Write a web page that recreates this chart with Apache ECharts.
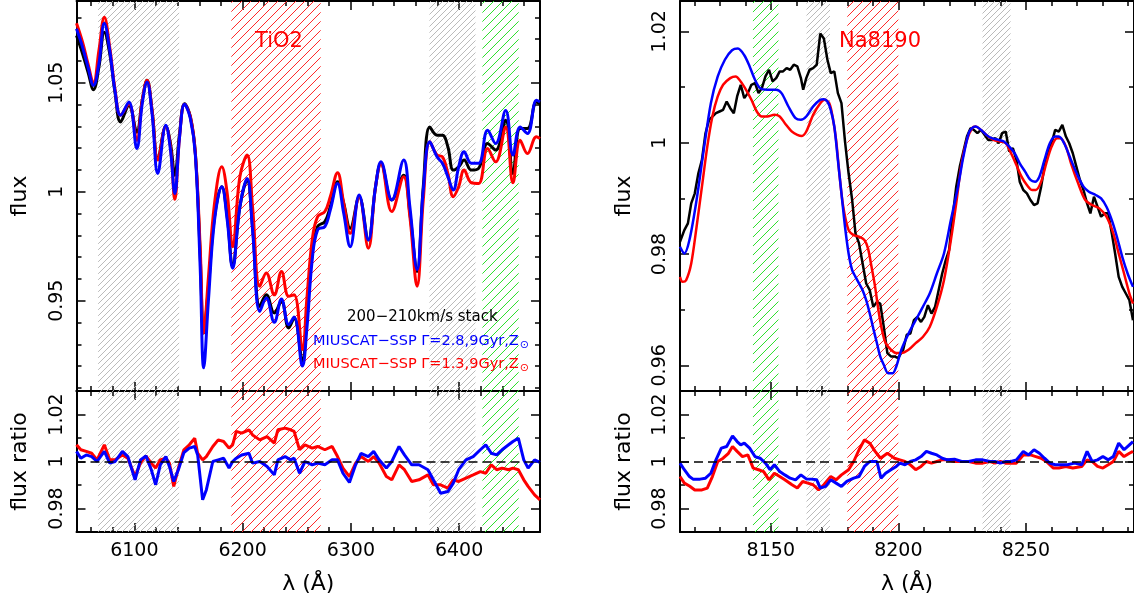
<!DOCTYPE html>
<html><head><meta charset="utf-8">
<script src="https://cdn.jsdelivr.net/npm/echarts@6/dist/echarts.min.js"></script>
<style>html,body{margin:0;padding:0;background:#fff}#c{width:1134px;height:604px}</style>
</head><body><div id="c"></div>
<script>
// ---------- data ----------
const leftWave = [6046.6,6052.2,6057.2,6062.3,6067.3,6072.3,6077.3,6082.3,6087.3,6095.0,6102.3,6107.3,6111.7,6116.4,6121.7,6129.1,6133.4,6137.4,6141.8,6146.4,6151.8,6156.4,6160.8,6164.1,6168.5,6174.1,6180.8,6185.8,6190.8,6197.5,6204.2,6209.2,6215.9,6221.9,6229.3,6235.9,6242.6,6247.6,6255.3,6259.3,6264.3,6269.3,6276.0,6281.0,6287.7,6293.4,6299.4,6307.7,6316.1,6322.8,6327.8,6337.8,6348.8,6354.5,6361.2,6366.9,6372.9,6379.6,6384.6,6389.6,6394.6,6399.6,6404.6,6411.3,6418.0,6426.3,6433.7,6443.0,6449.7,6456.4,6463.1,6471.4,6474.7];
const leftStack = [1.0716,1.0633,1.0549,1.0468,1.0572,1.0732,1.0633,1.0450,1.0320,1.0396,1.0274,1.0419,1.0511,1.0373,1.0148,1.0300,1.0221,1.0076,1.0267,1.0404,1.0343,1.0175,0.9718,0.9352,0.9566,0.9886,1.0023,0.9886,0.9657,0.9931,1.0053,0.9840,0.9474,0.9527,0.9444,0.9497,0.9375,0.9421,0.9223,0.9428,0.9718,0.9840,0.9863,0.9931,1.0046,0.9947,0.9832,0.9977,0.9779,1.0023,1.0130,0.9962,1.0076,0.9901,0.9634,1.0023,1.0297,1.0259,1.0259,1.0206,1.0099,1.0114,1.0145,1.0099,1.0107,1.0221,1.0191,1.0328,1.0084,1.0290,1.0290,1.0412,1.0404];
const leftBlue = [1.0747,1.0663,1.0572,1.0488,1.0587,1.0773,1.0648,1.0457,1.0351,1.0412,1.0198,1.0404,1.0503,1.0358,1.0084,1.0305,1.0191,0.9992,1.0252,1.0401,1.0335,1.0168,0.9657,0.9192,0.9505,0.9870,1.0023,0.9870,0.9649,0.9931,1.0061,0.9825,0.9451,0.9512,0.9401,0.9508,0.9390,0.9425,0.9200,0.9367,0.9688,0.9825,0.9840,0.9916,1.0038,0.9901,0.9748,0.9985,0.9779,1.0023,1.0137,0.9962,1.0145,0.9931,0.9642,1.0008,1.0229,1.0160,1.0130,1.0069,1.0008,1.0114,1.0183,1.0130,1.0130,1.0282,1.0221,1.0373,1.0168,1.0297,1.0267,1.0419,1.0412];
const leftRed = [1.0773,1.0686,1.0587,1.0498,1.0648,1.0800,1.0663,1.0465,1.0351,1.0404,1.0236,1.0419,1.0511,1.0373,1.0145,1.0300,1.0206,0.9965,1.0252,1.0401,1.0343,1.0175,0.9748,0.9352,0.9611,0.9947,1.0114,0.9992,0.9748,1.0069,1.0168,0.9931,0.9566,0.9627,0.9527,0.9634,0.9520,0.9527,0.9276,0.9505,0.9779,0.9886,0.9909,0.9977,1.0087,0.9947,0.9809,0.9977,0.9741,1.0023,1.0127,0.9909,1.0069,0.9886,0.9566,0.9962,1.0229,1.0168,1.0160,1.0084,0.9977,1.0023,1.0099,1.0041,1.0038,1.0198,1.0137,1.0297,1.0041,1.0236,1.0175,1.0252,1.0244];

const leftRatioWave = [6046.6,6050.6,6055.6,6060.6,6065.6,6072.3,6077.3,6082.3,6089.0,6094.0,6100.7,6105.7,6110.7,6115.7,6119.7,6124.0,6129.1,6132.4,6136.4,6140.7,6145.8,6150.8,6155.8,6158.5,6163.1,6166.5,6172.5,6177.5,6182.5,6187.5,6190.8,6194.2,6199.2,6205.9,6209.2,6215.9,6222.6,6229.3,6232.6,6239.3,6244.3,6247.6,6252.6,6257.6,6264.3,6269.3,6276.0,6282.7,6287.7,6292.7,6298.7,6304.4,6309.4,6316.1,6321.1,6326.1,6332.8,6337.8,6344.5,6349.5,6356.2,6362.9,6371.2,6376.2,6382.9,6389.6,6394.6,6399.6,6406.3,6413.0,6419.6,6424.6,6429.7,6434.7,6439.7,6445.7,6449.7,6454.7,6459.7,6463.7,6469.7,6474.7];
const leftRatioRed = [1.0071,1.0050,1.0043,1.0035,1.0007,1.0071,1.0007,1.0007,1.0028,1.0014,0.9936,0.9993,1.0024,0.9993,0.9972,1.0007,1.0014,0.9993,0.9894,0.9972,1.0050,1.0071,1.0099,1.0035,1.0007,1.0021,1.0064,1.0092,1.0085,1.0057,1.0071,1.0128,1.0121,1.0135,1.0113,1.0092,1.0106,1.0078,1.0135,1.0142,1.0135,1.0128,1.0050,1.0071,1.0057,1.0064,1.0050,1.0064,1.0021,0.9972,0.9936,0.9993,1.0021,1.0000,1.0021,0.9993,0.9936,0.9922,0.9986,0.9965,0.9915,0.9922,0.9943,0.9901,0.9901,0.9887,0.9922,0.9915,0.9929,0.9943,0.9957,0.9950,0.9986,0.9965,0.9972,0.9965,0.9972,0.9965,0.9922,0.9894,0.9858,0.9837];
const leftRatioBlue = [1.0043,1.0014,1.0028,1.0021,1.0000,1.0043,0.9993,1.0000,1.0043,1.0021,0.9922,1.0007,1.0024,0.9965,0.9901,0.9986,1.0021,0.9979,0.9915,0.9965,1.0038,1.0057,1.0064,1.0028,0.9837,0.9879,1.0000,1.0007,1.0014,0.9972,1.0000,1.0014,1.0028,1.0035,0.9993,1.0000,0.9979,0.9943,1.0007,1.0021,1.0007,1.0014,0.9950,1.0000,0.9986,0.9993,0.9986,1.0007,1.0007,0.9950,0.9911,0.9986,1.0035,1.0021,1.0043,1.0007,0.9972,1.0000,1.0064,1.0028,0.9986,0.9986,0.9965,0.9922,0.9865,0.9872,0.9908,0.9965,1.0007,1.0021,1.0050,1.0071,1.0035,1.0028,1.0050,1.0071,1.0085,1.0099,1.0007,0.9972,1.0007,0.9996];

const rightStackWave = [8114.4,8116.1,8117.5,8118.8,8120.2,8121.6,8123.0,8124.4,8125.8,8127.1,8128.5,8129.9,8131.3,8132.7,8134.1,8135.5,8136.8,8138.2,8139.6,8141.0,8142.4,8143.8,8145.2,8146.5,8147.9,8149.3,8150.7,8152.1,8153.5,8154.8,8156.2,8157.6,8159.0,8160.4,8161.8,8162.7,8163.9,8165.2,8166.6,8168.0,8169.4,8170.8,8172.2,8173.5,8174.9,8176.3,8177.7,8179.1,8180.5,8181.9,8183.2,8184.6,8186.0,8187.4,8188.8,8190.2,8191.6,8192.9,8194.3,8195.7,8197.1,8198.5,8199.9,8201.9,8203.3,8204.7,8206.1,8207.5,8208.9,8210.2,8211.6,8213.0,8214.4,8215.8,8217.2,8218.6,8219.9,8221.3,8222.7,8224.1,8225.5,8226.9,8228.3,8229.6,8231.0,8232.4,8233.8,8235.2,8236.6,8238.0,8239.3,8240.7,8242.1,8243.5,8244.9,8246.3,8247.6,8249.0,8250.4,8251.8,8253.2,8254.6,8256.0,8257.3,8258.7,8260.1,8261.5,8262.9,8264.3,8265.7,8267.0,8268.4,8269.8,8271.2,8272.6,8274.0,8275.3,8276.7,8278.1,8279.5,8280.9,8282.3,8283.7,8285.0,8286.4,8287.8,8289.2,8290.6,8292.0];
const rightStack = [0.9822,0.9843,0.9855,0.9891,0.9909,0.9945,0.9969,1.0017,1.0041,1.0047,1.0053,1.0056,1.0059,1.0074,1.0062,1.0053,1.0083,1.0104,1.0080,1.0089,1.0104,1.0107,1.0089,1.0098,1.0119,1.0131,1.0110,1.0116,1.0128,1.0128,1.0134,1.0131,1.0140,1.0137,1.0116,1.0095,1.0116,1.0131,1.0134,1.0140,1.0196,1.0187,1.0149,1.0125,1.0128,1.0089,1.0071,1.0002,0.9945,0.9897,0.9837,0.9819,0.9783,0.9747,0.9735,0.9705,0.9714,0.9711,0.9669,0.9622,0.9616,0.9616,0.9613,0.9628,0.9655,0.9657,0.9681,0.9687,0.9678,0.9687,0.9708,0.9693,0.9705,0.9735,0.9765,0.9789,0.9807,0.9867,0.9921,0.9957,0.9984,1.0011,1.0026,1.0023,1.0017,1.0023,1.0014,1.0005,1.0005,1.0008,0.9999,1.0017,1.0020,0.9984,0.9990,0.9969,0.9930,0.9915,0.9909,0.9897,0.9888,0.9891,0.9921,0.9957,0.9981,0.9999,1.0023,1.0020,1.0032,1.0011,0.9999,0.9981,0.9957,0.9933,0.9915,0.9891,0.9873,0.9903,0.9885,0.9867,0.9873,0.9873,0.9837,0.9801,0.9759,0.9741,0.9729,0.9717,0.9681];
const rightBlueWave = [8114.4,8116.1,8118.1,8120.9,8123.7,8126.5,8129.2,8132.0,8134.8,8137.1,8139.6,8141.7,8143.8,8145.8,8148.6,8152.1,8154.2,8156.9,8159.7,8161.8,8163.9,8166.6,8169.4,8170.8,8172.2,8173.5,8174.9,8176.3,8177.7,8179.1,8180.5,8181.9,8183.2,8184.6,8186.0,8187.4,8188.8,8190.2,8191.6,8192.9,8194.3,8196.0,8197.8,8199.2,8201.2,8204.0,8206.8,8209.6,8212.3,8215.1,8217.9,8220.6,8223.4,8225.5,8227.6,8228.9,8230.3,8232.4,8234.5,8236.6,8239.3,8241.4,8243.5,8245.6,8247.6,8249.7,8251.8,8253.6,8255.3,8257.3,8259.4,8261.5,8262.9,8265.0,8267.7,8270.5,8272.6,8274.7,8277.4,8279.5,8281.6,8283.7,8285.7,8287.8,8289.9,8292.0];
const rightBlue = [0.9813,0.9801,0.9825,0.9897,0.9987,1.0071,1.0119,1.0149,1.0166,1.0169,1.0157,1.0137,1.0113,1.0098,1.0095,1.0095,1.0089,1.0065,1.0044,1.0041,1.0047,1.0065,1.0077,1.0078,1.0074,1.0059,1.0029,0.9969,0.9909,0.9849,0.9801,0.9771,0.9759,0.9747,0.9735,0.9717,0.9693,0.9666,0.9640,0.9616,0.9601,0.9586,0.9586,0.9598,0.9628,0.9657,0.9681,0.9705,0.9729,0.9765,0.9801,0.9861,0.9921,0.9975,1.0017,1.0026,1.0029,1.0023,1.0014,1.0008,1.0005,1.0002,0.9993,0.9981,0.9963,0.9948,0.9933,0.9930,0.9939,0.9969,0.9999,1.0011,1.0011,0.9999,0.9969,0.9939,0.9921,0.9912,0.9906,0.9900,0.9885,0.9861,0.9831,0.9795,0.9765,0.9741];
const rightRedWave = [8114.4,8115.4,8116.8,8118.8,8120.9,8123.0,8125.1,8127.1,8129.2,8131.3,8134.1,8136.2,8138.2,8140.3,8142.4,8144.5,8146.5,8148.6,8151.4,8153.5,8155.5,8158.3,8160.4,8162.2,8163.9,8166.6,8169.4,8171.1,8172.9,8174.2,8175.6,8177.0,8178.4,8180.5,8182.5,8184.6,8186.7,8188.1,8189.5,8190.9,8192.2,8193.6,8195.0,8197.1,8199.2,8201.2,8204.0,8206.8,8209.6,8212.3,8215.1,8217.9,8220.6,8222.7,8224.8,8226.9,8228.9,8230.3,8232.4,8234.5,8237.3,8240.0,8242.1,8244.2,8246.3,8248.3,8250.4,8252.5,8253.9,8256.0,8258.0,8260.1,8262.2,8263.6,8265.7,8267.7,8270.5,8273.3,8276.0,8278.8,8281.6,8284.3,8286.4,8288.5,8290.6,8292.0];
const rightRed = [0.9759,0.9750,0.9753,0.9783,0.9849,0.9921,0.9993,1.0047,1.0083,1.0104,1.0116,1.0119,1.0110,1.0095,1.0077,1.0056,1.0047,1.0047,1.0050,1.0047,1.0035,1.0020,1.0014,1.0012,1.0020,1.0050,1.0071,1.0077,1.0071,1.0047,1.0005,0.9939,0.9885,0.9843,0.9834,0.9831,0.9825,0.9810,0.9777,0.9741,0.9699,0.9663,0.9640,0.9628,0.9622,0.9622,0.9628,0.9640,0.9651,0.9669,0.9705,0.9753,0.9825,0.9891,0.9963,1.0005,1.0026,1.0029,1.0023,1.0014,1.0005,1.0002,0.9999,0.9981,0.9960,0.9939,0.9924,0.9915,0.9915,0.9930,0.9963,0.9993,1.0008,1.0008,0.9993,0.9963,0.9927,0.9897,0.9888,0.9882,0.9867,0.9837,0.9801,0.9765,0.9729,0.9711];

const rightRatioBlueWave = [8114.4,8116.1,8118.1,8119.5,8122.3,8124.4,8126.5,8128.5,8130.6,8132.7,8135.0,8136.8,8138.2,8139.6,8141.7,8143.8,8145.8,8147.9,8149.7,8151.4,8153.5,8155.5,8157.6,8159.7,8161.8,8163.9,8165.9,8168.0,8169.4,8171.5,8173.5,8175.6,8177.7,8179.8,8182.5,8184.6,8186.7,8188.8,8191.6,8193.2,8195.0,8197.1,8199.2,8200.6,8202.6,8204.7,8206.8,8208.9,8211.0,8213.0,8215.1,8217.2,8219.3,8222.0,8224.8,8227.6,8230.3,8233.1,8235.9,8237.9,8240.0,8242.1,8244.2,8246.3,8249.0,8251.1,8253.2,8255.3,8257.3,8259.4,8261.5,8263.6,8266.3,8269.1,8271.9,8274.0,8276.0,8278.1,8280.2,8282.3,8284.3,8286.4,8288.5,8290.6,8292.0];
const rightRatioBlue = [0.9993,0.9965,0.9936,0.9925,0.9925,0.9929,0.9950,1.0007,1.0057,1.0064,1.0109,1.0085,1.0071,1.0078,1.0057,1.0021,1.0014,0.9993,0.9965,0.9986,0.9957,0.9943,0.9929,0.9922,0.9943,0.9926,0.9925,0.9922,0.9887,0.9894,0.9922,0.9908,0.9894,0.9915,0.9929,0.9936,0.9979,1.0000,1.0000,0.9929,0.9950,0.9965,0.9979,0.9993,0.9986,1.0000,1.0007,1.0021,1.0043,1.0035,1.0028,1.0014,1.0007,1.0010,1.0000,1.0000,1.0007,1.0007,1.0000,1.0000,0.9993,1.0000,1.0000,1.0007,1.0043,1.0028,1.0050,1.0035,1.0014,0.9993,0.9986,0.9986,0.9986,0.9993,0.9986,1.0043,1.0000,1.0007,1.0021,1.0007,1.0021,1.0078,1.0050,1.0071,1.0085];
const rightRatioRedWave = [8114.4,8116.1,8118.1,8120.2,8123.0,8125.1,8127.1,8129.2,8131.3,8133.4,8135.0,8136.8,8138.9,8141.0,8143.1,8145.2,8147.2,8149.3,8151.4,8153.5,8155.5,8158.3,8160.4,8162.5,8164.5,8166.6,8168.7,8170.8,8173.5,8175.6,8177.7,8180.5,8182.5,8184.6,8186.7,8188.8,8190.9,8193.0,8195.7,8198.5,8200.6,8202.6,8204.7,8206.8,8208.9,8211.0,8213.0,8215.1,8217.2,8219.3,8222.0,8224.8,8227.6,8230.3,8233.1,8235.9,8237.9,8240.0,8242.1,8244.2,8246.3,8249.0,8251.8,8253.9,8256.0,8258.0,8260.8,8262.9,8265.7,8268.4,8271.9,8274.0,8276.0,8278.1,8280.2,8282.3,8284.3,8286.4,8288.5,8290.6,8292.0];
const rightRatioRed = [0.9936,0.9908,0.9896,0.9879,0.9879,0.9887,0.9936,1.0000,1.0014,1.0035,1.0064,1.0043,1.0021,1.0028,0.9972,0.9965,0.9957,0.9922,0.9950,0.9936,0.9922,0.9901,0.9887,0.9915,0.9908,0.9901,0.9879,0.9901,0.9936,0.9922,0.9943,0.9965,1.0000,1.0050,1.0092,1.0078,1.0043,1.0014,1.0035,1.0014,1.0007,1.0000,0.9986,0.9965,0.9979,1.0000,0.9993,1.0000,1.0007,1.0007,1.0000,1.0000,1.0000,0.9993,0.9993,1.0000,0.9993,1.0000,0.9993,0.9993,0.9993,1.0028,1.0028,1.0021,1.0014,1.0000,0.9972,0.9972,0.9979,0.9972,0.9979,1.0007,1.0000,0.9979,0.9972,0.9986,1.0000,1.0043,1.0021,1.0035,1.0043];

// index bands: wavelength limits per kind
const leftGrayFrom = [6066.6, 6372.6], leftGrayTo = [6141.4, 6415.1];
const leftRedFrom = [6189.6], leftRedTo = [6272.1];
const leftGreenFrom = [6421.5], leftGreenTo = [6455.0];
const rightGrayFrom = [8164.0, 8233.0], rightGrayTo = [8173.2, 8244.0];
const rightRedFrom = [8180.0], rightRedTo = [8200.0];
const rightGreenFrom = [8143.0], rightGreenTo = [8153.0];

// ticks
const leftXMajor = [6100,6200,6300,6400];
const leftXMinor = [6060,6080,6120,6140,6160,6180,6220,6240,6260,6280,6320,6340,6360,6380,6420,6440,6460];
const rightXMajor = [8150,8200,8250];
const rightXMinor = [8120,8130,8140,8160,8170,8180,8190,8210,8220,8230,8240,8260,8270,8280,8290];
const leftFluxMajor = [0.95,1,1.05];
const leftFluxMinor = [0.91,0.92,0.93,0.94,0.96,0.97,0.98,0.99,1.01,1.02,1.03,1.04,1.06,1.07,1.08];
const rightFluxMajor = [0.96,0.98,1,1.02];
const rightFluxMinor = [0.97,0.99,1.01];
const ratioMajor = [0.98,1,1.02];
const ratioMinor = [0.99,1.01];
const ratioReference = 1;

const leftXRange = [6046.6, 6474.7];
const rightXRange = [8114.4, 8292.4];
const leftFluxRange = [0.90858, 1.08748];
const rightFluxRange = [0.95539, 1.02545];
const ratioRange = [0.97, 1.03];

// ---------- styling ----------
const FONT = '"DejaVu Sans", sans-serif';

const grids = [
  {left: 76.5, top: 1, width: 463.5, height: 390},
  {left: 76.5, top: 391, width: 463.5, height: 141},
  {left: 680, top: 1, width: 457, height: 390},
  {left: 680, top: 391, width: 457, height: 141}
];

const xAxes = [], yAxes = [];
const tickStyle = {color: '#000', width: 1.5};
const plainNum = v => String(Math.round(v * 1000) / 1000);
function addX(g, range, majors, minors, withLabels) {
  const idx = xAxes.length;
  ['bottom', 'top'].forEach(pos => {
    const lab = withLabels && pos === 'bottom';
    xAxes.push({type: 'value', gridIndex: g, position: pos, min: range[0], max: range[1],
      splitLine: {show: false},
      axisLine: {show: true, onZero: false, lineStyle: {color: '#000', width: 2}},
      axisTick: {show: true, inside: true, length: 9, customValues: majors, lineStyle: tickStyle},
      axisLabel: lab ? {show: true, customValues: majors, formatter: plainNum, margin: 10, color: '#000', fontSize: 19, fontFamily: FONT} : {show: false},
      name: lab ? 'λ (Å)' : '', nameLocation: 'middle', nameGap: 41,
      nameTextStyle: {color: '#000', fontSize: 22, fontFamily: FONT}
    });
    xAxes.push({type: 'value', gridIndex: g, position: pos, min: range[0], max: range[1],
      splitLine: {show: false},
      axisLine: {show: false, onZero: false},
      axisTick: {show: true, inside: true, length: 5, customValues: minors, lineStyle: tickStyle},
      axisLabel: {show: false}
    });
  });
  return idx;
}
function addY(g, range, majors, minors, name) {
  const idx = yAxes.length;
  ['left', 'right'].forEach(pos => {
    const lab = pos === 'left';
    yAxes.push({type: 'value', gridIndex: g, position: pos, min: range[0], max: range[1],
      splitLine: {show: false},
      axisLine: {show: true, onZero: false, lineStyle: {color: '#000', width: 2}},
      axisTick: {show: true, inside: true, length: 9, customValues: majors, lineStyle: tickStyle},
      axisLabel: lab ? {show: true, customValues: majors, formatter: plainNum, rotate: 90, margin: 10, color: '#000', fontSize: 19, fontFamily: FONT} : {show: false},
      name: lab ? name : '', nameLocation: 'middle', nameRotate: 90, nameGap: 45,
      nameTextStyle: {color: '#000', fontSize: 22, fontFamily: FONT}
    });
    yAxes.push({type: 'value', gridIndex: g, position: pos, min: range[0], max: range[1],
      splitLine: {show: false},
      axisLine: {show: false, onZero: false},
      axisTick: {show: true, inside: true, length: 5, customValues: minors, lineStyle: tickStyle},
      axisLabel: {show: false}
    });
  });
  return idx;
}

const ax = [
  [addX(0, leftXRange, leftXMajor, leftXMinor, false), addY(0, leftFluxRange, leftFluxMajor, leftFluxMinor, 'flux')],
  [addX(1, leftXRange, leftXMajor, leftXMinor, true), addY(1, ratioRange, ratioMajor, ratioMinor, 'flux ratio')],
  [addX(2, rightXRange, rightXMajor, rightXMinor, false), addY(2, rightFluxRange, rightFluxMajor, rightFluxMinor, 'flux')],
  [addX(3, rightXRange, rightXMajor, rightXMinor, true), addY(3, ratioRange, ratioMajor, ratioMinor, 'flux ratio')]
];

const zip = (xs, ys) => xs.map((x, i) => [x, ys[i]]);
const series = [];

// hatched index bands: a custom series per colour, drawn as one path of diagonal strokes
function bandSeries(g, froms, tos, yRange, color, step, width) {
  series.push({
    type: 'custom', xAxisIndex: ax[g][0], yAxisIndex: ax[g][1], z: 1, silent: true, clip: true,
    itemStyle: {color: color, borderColor: color},
    data: froms.map((f, i) => [f, tos[i]]),
    renderItem: (params, api) => {
      const p0 = api.coord([api.value(0), yRange[1]]);
      const p1 = api.coord([api.value(1), yRange[0]]);
      const x0 = p0[0], y0 = p0[1], x1 = p1[0], y1 = p1[1];
      let d = '';
      for (let c = Math.ceil((x0 + y0) / step) * step; c <= x1 + y1; c += step) {
        const xa = Math.max(x0, c - y1), xb = Math.min(x1, c - y0);
        if (xb > xa) d += 'M' + xa.toFixed(2) + ',' + (c - xa).toFixed(2) + 'L' + xb.toFixed(2) + ',' + (c - xb).toFixed(2);
      }
      return {type: 'path', shape: {pathData: d},
        style: {fill: 'none', stroke: color, lineWidth: width, opacity: 1}};
    }
  });
}
function bandsFor(g, yRange, side) {
  if (side === 'left') {
    bandSeries(g, leftGrayFrom, leftGrayTo, yRange, '#b2b2b2', 6, 0.9);
    bandSeries(g, leftRedFrom, leftRedTo, yRange, '#ff2a2a', 9, 1);
    bandSeries(g, leftGreenFrom, leftGreenTo, yRange, '#2ee02e', 9, 1);
  } else {
    bandSeries(g, rightGrayFrom, rightGrayTo, yRange, '#b2b2b2', 6, 0.9);
    bandSeries(g, rightRedFrom, rightRedTo, yRange, '#ff2a2a', 9, 1);
    bandSeries(g, rightGreenFrom, rightGreenTo, yRange, '#2ee02e', 9, 1);
  }
}
function refSeries(g) {
  series.push({type: 'line', xAxisIndex: ax[g][0], yAxisIndex: ax[g][1], data: [], z: 2, silent: true,
    markLine: {silent: true, symbol: ['none', 'none'], label: {show: false},
      lineStyle: {color: '#000', type: [9, 5], width: 1.5}, data: [{yAxis: ratioReference}]}});
}
function lineSeries(g, data, color, width, smooth) {
  series.push({type: 'line', xAxisIndex: ax[g][0], yAxisIndex: ax[g][1], data, showSymbol: false, symbol: 'none',
    smooth, lineStyle: {color, width}, z: 3, silent: true});
}
bandsFor(0, leftFluxRange, 'left');
lineSeries(0, zip(leftWave, leftStack), '#000', 3, 0.4);
lineSeries(0, zip(leftWave, leftRed), '#ff0000', 3, 0.4);
lineSeries(0, zip(leftWave, leftBlue), '#0000ff', 3, 0.4);
bandsFor(1, ratioRange, 'left');
refSeries(1);
lineSeries(1, zip(leftRatioWave, leftRatioRed), '#ff0000', 3, false);
lineSeries(1, zip(leftRatioWave, leftRatioBlue), '#0000ff', 3, false);
bandsFor(2, rightFluxRange, 'right');
lineSeries(2, zip(rightStackWave, rightStack), '#000', 2.5, false);
lineSeries(2, zip(rightRedWave, rightRed), '#ff0000', 2.5, 0.3);
lineSeries(2, zip(rightBlueWave, rightBlue), '#0000ff', 2.5, 0.3);
bandsFor(3, ratioRange, 'right');
refSeries(3);
lineSeries(3, zip(rightRatioRedWave, rightRatioRed), '#ff0000', 3, false);
lineSeries(3, zip(rightRatioBlueWave, rightRatioBlue), '#0000ff', 3, false);

const sub = {fontSize: 11, fontFamily: FONT, padding: [9, 0, 0, 1]};
const graphic = [
  {type: 'text', x: 279, y: 42, z: 10, style: {text: 'TiO2', fill: '#ff0000', fontSize: 21, fontFamily: FONT, textAlign: 'center', textVerticalAlign: 'middle'}},
  {type: 'text', x: 880, y: 42, z: 10, style: {text: 'Na8190', fill: '#ff0000', fontSize: 21, fontFamily: FONT, textAlign: 'center', textVerticalAlign: 'middle'}},
  {type: 'text', x: 347, y: 317, z: 10, style: {text: '200−210km/s stack', fill: '#000', fontSize: 15, fontFamily: FONT, textAlign: 'left', textVerticalAlign: 'middle'}},
  {type: 'text', x: 313, y: 341, z: 10, style: {text: 'MIUSCAT−SSP Γ=2.8,9Gyr,Z{s|⊙}', rich: {s: Object.assign({fill: '#0000ff'}, sub)}, fill: '#0000ff', fontSize: 14.5, fontFamily: FONT, textAlign: 'left', textVerticalAlign: 'middle'}},
  {type: 'text', x: 313, y: 364, z: 10, style: {text: 'MIUSCAT−SSP Γ=1.3,9Gyr,Z{s|⊙}', rich: {s: Object.assign({fill: '#ff0000'}, sub)}, fill: '#ff0000', fontSize: 14.5, fontFamily: FONT, textAlign: 'left', textVerticalAlign: 'middle'}}
];

const chart = echarts.init(document.getElementById('c'), null, {renderer: 'canvas'});
chart.setOption({
  animation: false,
  backgroundColor: '#fff',
  grid: grids,
  xAxis: xAxes,
  yAxis: yAxes,
  series,
  graphic
});
</script></body></html>
